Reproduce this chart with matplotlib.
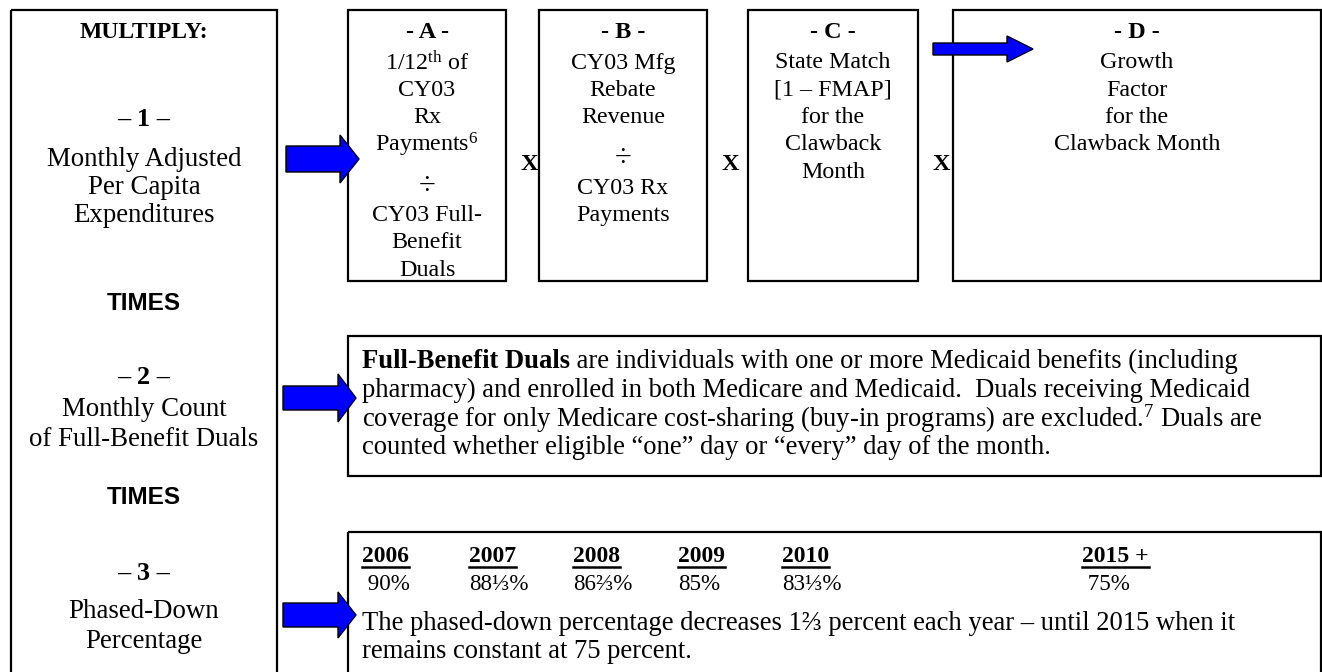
import matplotlib
matplotlib.use("Agg")
import matplotlib.pyplot as plt
from matplotlib.patches import Rectangle, Polygon

plt.rcParams["mathtext.fontset"] = "custom"
plt.rcParams["mathtext.rm"] = "Liberation Serif"
plt.rcParams["mathtext.bf"] = "Liberation Serif:bold"
plt.rcParams["mathtext.it"] = "Liberation Serif:italic"

SERIF = ["Liberation Serif", "DejaVu Serif"]
SANS = ["Liberation Sans", "DejaVu Sans"]

# ---- content ----
left_title = "MULTIPLY:"
left_numbers = ["– 1 –", "– 2 –", "– 3 –"]
left_labels = [["Monthly Adjusted", "Per Capita", "Expenditures"],
               ["Monthly Count", "of Full-Benefit Duals"],
               ["Phased-Down", "Percentage"]]
times_word = "TIMES"

factor_headers = ["- A -", "- B -", "- C -", "- D -"]
factor_lines = [
    ["1/12$^{\\mathrm{th}}$ of", "CY03", "Rx", "Payments$^{6}$", "÷",
     "CY03 Full-", "Benefit", "Duals"],
    ["CY03 Mfg", "Rebate", "Revenue", "÷", "CY03 Rx", "Payments"],
    ["State Match", "[1 – FMAP]", "for the", "Clawback", "Month"],
    ["Growth", "Factor", "for the", "Clawback Month"],
]
times_sign = "X"

duals_bold = "Full-Benefit Duals"
duals_lines = [
    " are individuals with one or more Medicaid benefits (including",
    "pharmacy) and enrolled in both Medicare and Medicaid.  Duals receiving Medicaid",
    "coverage for only Medicare cost-sharing (buy-in programs) are excluded.$^{7}$ Duals are",
    "counted whether eligible \u201cone\u201d day or \u201cevery\u201d day of the month.",
]

years = ["2006", "2007", "2008", "2009", "2010", "2015 +"]
percents = [" 90%", "88\u2153%", "86\u2154%", "85%", "83\u2153%", " 75%"]
phase_lines = [
    "The phased-down percentage decreases 1\u2154 percent each year \u2013 until 2015 when it",
    "remains constant at 75 percent.",
]

# ---- layout (pixels) ----
fig = plt.figure(figsize=(13.22, 6.72), dpi=100)
ax = fig.add_axes([0, 0, 1, 1])
ax.set_xlim(0, 1322)
ax.set_ylim(672, 0)
ax.axis("off")

lw = 1.6
boxes = [(11, 10, 277, 700),      # left column
         (348, 10, 506, 281), (539, 10, 707, 281),
         (748, 10, 918, 281), (953, 10, 1321, 281),
         (348, 336, 1321, 476), (348, 532, 1321, 700)]
for x0, y0, x1, y1 in boxes:
    ax.add_patch(Rectangle((x0, y0), x1 - x0, y1 - y0, fill=False,
                           ec="black", lw=lw, zorder=1))


def block_arrow(x0, xh, x1, cy, hs, hh):
    pts = [(x0, cy - hs), (xh, cy - hs), (xh, cy - hh), (x1, cy),
           (xh, cy + hh), (xh, cy + hs), (x0, cy + hs)]
    ax.add_patch(Polygon(pts, closed=True, fc="#0000FF", ec="black",
                         lw=1.0, zorder=3))


block_arrow(286, 340, 359, 159, 13, 24)
block_arrow(933, 1007, 1033, 49, 6, 13)
block_arrow(283, 338, 356, 398, 12, 24)
block_arrow(283, 338, 356, 615, 12, 23)

# left column
cx = 144
ax.text(cx, 32, left_title, ha="center", va="center", fontsize=17,
        fontweight="bold", family=SERIF)
num_y = [120, 378, 573]
label_y = [[160, 188, 215], [409, 439], [611, 641]]
for n, ny, labs, ly in zip(left_numbers, num_y, left_labels, label_y):
    ax.text(cx, ny, n, ha="center", va="center", fontsize=19,
            fontweight="bold", family=SERIF)
    for s, yy in zip(labs, ly):
        ax.text(cx, yy, s, ha="center", va="center", fontsize=19.4, family=SERIF)
for yy in [303, 498]:
    ax.text(cx, yy, times_word, ha="center", va="center", fontsize=17.5,
            fontweight="bold", family=SANS)

# factor boxes
centers = [427, 623, 833, 1137]
for c, h, lines in zip(centers, factor_headers, factor_lines):
    ax.text(c, 32, h, ha="center", va="center", fontsize=17.5,
            fontweight="bold", family=SERIF)
    y = 63
    prev_div = False
    for s in lines:
        if s == "÷":
            y += 14
        elif prev_div:
            y += 2
        ax.text(c, y, s, ha="center", va="center",
                fontsize=22 if s == "÷" else 17.3, family=SERIF)
        prev_div = s == "÷"
        y += 27.3
for xx in [529, 730, 941]:
    ax.text(xx, 165, times_sign, ha="center", va="center", fontsize=17.5,
            fontweight="bold", family=SERIF)

# full-benefit duals box
tx = 362
fs = 19.2
dy = [361, 390, 419, 448]
b = ax.text(tx, dy[0], duals_bold, ha="left", va="center", fontsize=fs,
            fontweight="bold", family=SERIF)
ax.annotate(duals_lines[0], xy=(1, 0), xycoords=b, ha="left", va="bottom",
            fontsize=fs, family=SERIF)
for s, yy in zip(duals_lines[1:], dy[1:]):
    ax.text(tx, yy, s, ha="left", va="center", fontsize=fs, family=SERIF)

# phased-down box
year_x = [362, 469, 573, 678, 782, 1082]
year_txt = []
for s, xx in zip(years, year_x):
    year_txt.append(ax.text(xx, 556, s, ha="left", va="center", fontsize=17,
                            fontweight="bold", family=SERIF))
for s, xx in zip(percents, year_x):
    ax.text(xx, 584, s, ha="left", va="center", fontsize=16.6, family=SERIF)
for s, yy in zip(phase_lines, [623, 651]):
    ax.text(tx, yy, s, ha="left", va="center", fontsize=fs, family=SERIF)

fig.canvas.draw()
inv = ax.transData.inverted()
for t in year_txt:
    bb = t.get_window_extent()
    (l, _), (r, _) = inv.transform([(bb.x0, bb.y0), (bb.x1, bb.y0)])
    ax.plot([l, r], [567, 567], color="black", lw=1.8, zorder=2)

fig.savefig("out.png", dpi=100)
